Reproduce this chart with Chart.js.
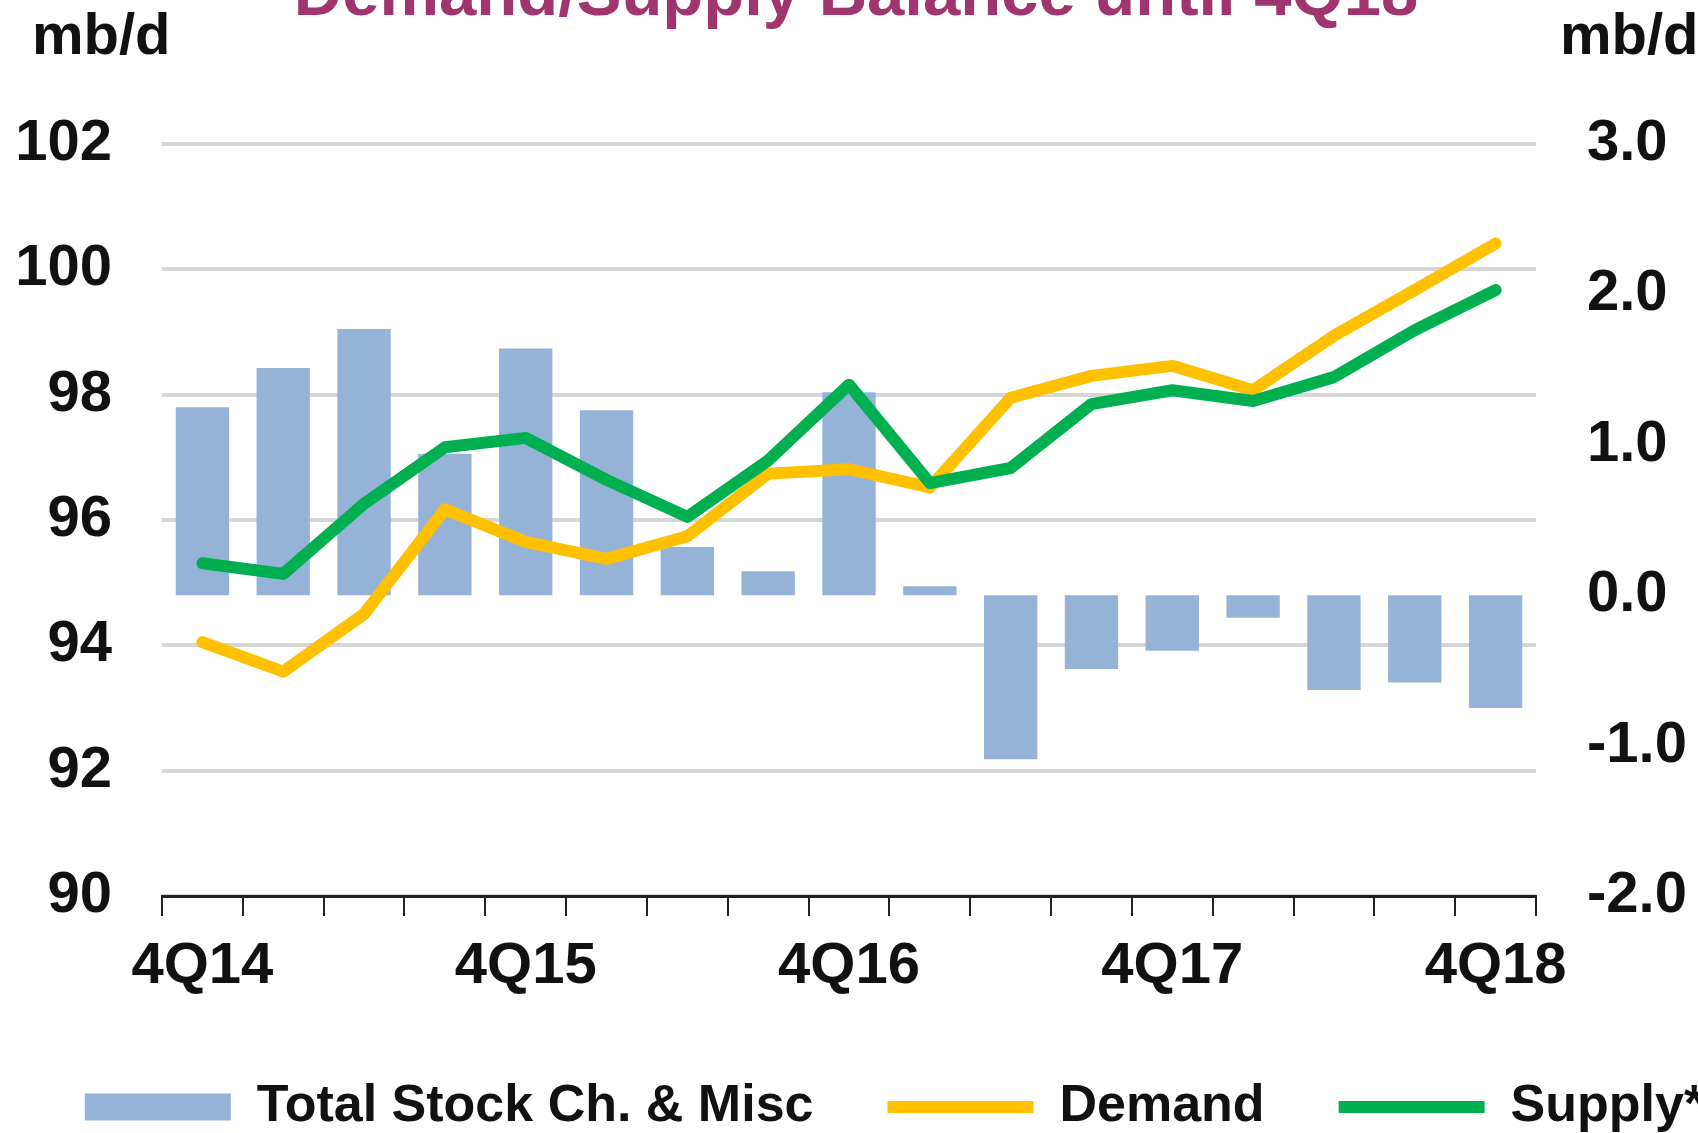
<!DOCTYPE html>
<html>
<head>
<meta charset="utf-8">
<script src="https://cdn.jsdelivr.net/npm/chart.js@4"></script>
<style>
  html, body { margin: 0; padding: 0; background: #fff; overflow: hidden; width: 1698px; height: 1133px; }
  #wrap { position: absolute; left: 0; top: -60px; width: 1789px; height: 1203px; }
</style>
</head>
<body>
<div id="wrap"><canvas id="chart"></canvas></div>
<script>
const quarters = ['4Q14', '1Q15', '2Q15', '3Q15', '4Q15', '1Q16', '2Q16', '3Q16', '4Q16',
  '1Q17', '2Q17', '3Q17', '4Q17', '1Q18', '2Q18', '3Q18', '4Q18'];
const stockChange = [1.25, 1.51, 1.77, 0.94, 1.64, 1.23, 0.32, 0.16, 1.35,
  0.06, -1.09, -0.49, -0.37, -0.15, -0.63, -0.58, -0.75];
const demand = [94.05, 93.58, 94.50, 96.17, 95.65, 95.38, 95.74, 96.74, 96.81,
  96.52, 97.95, 98.30, 98.46, 98.07, 98.94, 99.67, 100.41];
const supply = [95.31, 95.14, 96.26, 97.16, 97.31, 96.64, 96.05, 96.95, 98.16,
  96.59, 96.83, 97.85, 98.07, 97.90, 98.28, 99.03, 99.67];
const labelEvery = 4;
const titleText = 'Demand/Supply Balance until 4Q18';
const unitText = 'mb/d';

const FONT = '"Liberation Sans", Arial, sans-serif';

// title (cut off at the top, as in the source) and unit labels above both axes
const headerText = {
  id: 'headerText',
  afterDraw(chart) {
    const ctx = chart.ctx;
    ctx.save();
    ctx.textBaseline = 'middle';
    ctx.textAlign = 'center';
    ctx.font = 'bold 67px ' + FONT;
    ctx.fillStyle = '#a0346e';
    ctx.fillText(titleText, 856, 57);
    ctx.font = 'bold 58px ' + FONT;
    ctx.fillStyle = '#111';
    ctx.textAlign = 'left';
    ctx.fillText(unitText, 32, 98);
    ctx.fillText(unitText, 1560, 98);
    ctx.restore();
  }
};

new Chart(document.getElementById('chart'), {
  type: 'bar',
  data: {
    labels: quarters,
    datasets: [{
      label: 'Total Stock Ch. & Misc',
      data: stockChange,
      yAxisID: 'y2',
      backgroundColor: '#95b3d7',
      borderWidth: 0,
      barPercentage: 0.66,
      categoryPercentage: 1,
      order: 3
    }, {
      type: 'line',
      label: 'Demand',
      data: demand,
      yAxisID: 'y',
      borderColor: '#ffc000',
      backgroundColor: '#ffc000',
      borderWidth: 12,
      borderCapStyle: 'round',
      borderJoinStyle: 'round',
      pointRadius: 0,
      tension: 0,
      order: 2
    }, {
      type: 'line',
      label: 'Supply*',
      data: supply,
      yAxisID: 'y',
      borderColor: '#00b050',
      backgroundColor: '#00b050',
      borderWidth: 12,
      borderCapStyle: 'round',
      borderJoinStyle: 'round',
      pointRadius: 0,
      tension: 0,
      order: 1
    }]
  },
  options: {
    responsive: true,
    maintainAspectRatio: false,
    animation: false,
    layout: { padding: { top: 204, left: 0, right: 0, bottom: 0 } },
    plugins: {
      title: { display: false },
      legend: {
        position: 'bottom',
        labels: {
          usePointStyle: true,
          pointStyleWidth: 146,
          boxWidth: 146,
          boxHeight: 27,
          padding: 74,
          color: '#111',
          font: { family: FONT, size: 52, weight: 'bold' },
          sort: (a, b) => a.datasetIndex - b.datasetIndex,
          generateLabels: chart => {
            const items = Chart.defaults.plugins.legend.labels.generateLabels(chart);
            items.forEach(it => {
              const ds = chart.data.datasets[it.datasetIndex];
              it.pointStyle = ds.type === 'line' ? 'line' : 'rect';
            });
            return items;
          }
        }
      },
      tooltip: { enabled: false }
    },
    scales: {
      x: {
        afterFit: s => { s.height = 111; },
        grid: {
          drawOnChartArea: false,
          offset: true,
          color: '#222',
          lineWidth: 2,
          tickLength: 20
        },
        border: { display: true, color: '#222', width: 3 },
        ticks: {
          autoSkip: false,
          maxRotation: 0,
          padding: 16,
          color: '#111',
          font: { family: FONT, size: 58, weight: 'bold' },
          callback: (v, i) => (i % labelEvery === 0 ? quarters[i] : '')
        }
      },
      y: {
        position: 'left',
        min: 90,
        max: 102,
        afterFit: s => { s.width = 162; },
        grid: { color: '#d6d6d6', lineWidth: 4, drawTicks: false },
        border: { display: false },
        ticks: {
          stepSize: 2,
          padding: 50,
          color: '#111',
          font: { family: FONT, size: 58, weight: 'bold' }
        }
      },
      y2: {
        position: 'right',
        min: -2,
        max: 3,
        afterFit: s => { s.width = 253; },
        grid: { display: false },
        border: { display: false },
        ticks: {
          stepSize: 1,
          padding: 43,
          color: '#111',
          font: { family: FONT, size: 58, weight: 'bold' },
          callback: v => v.toFixed(1)
        }
      }
    }
  },
  plugins: [headerText]
});
</script>
</body>
</html>
